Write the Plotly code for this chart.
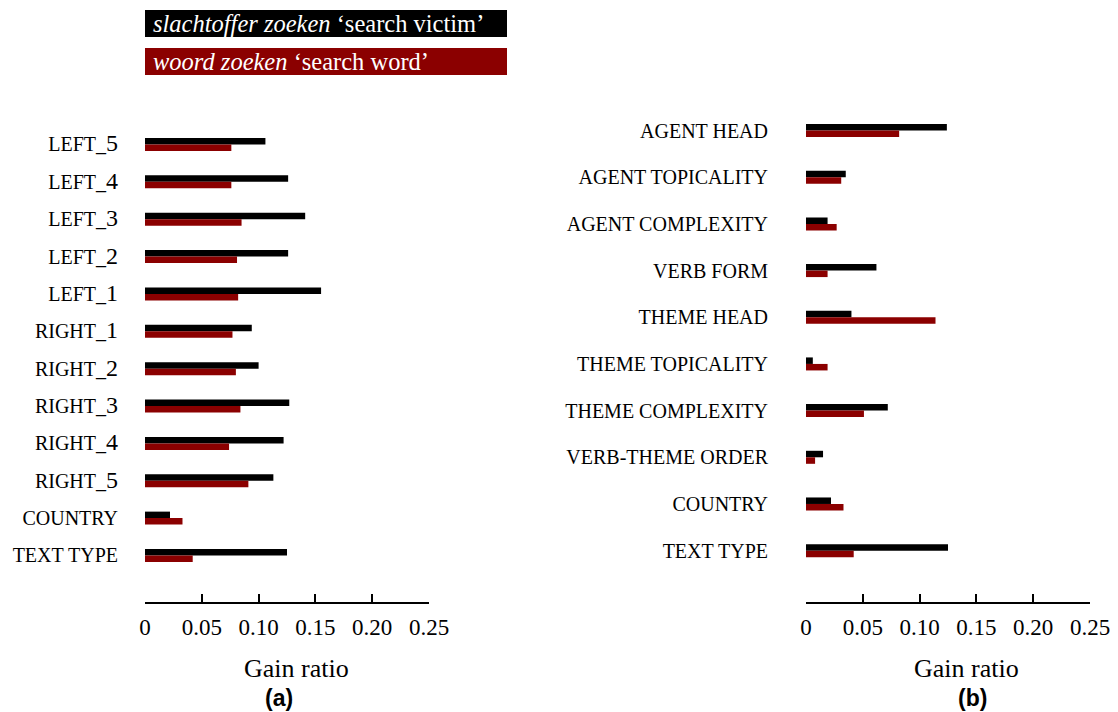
import re
import plotly.graph_objects as go

# series names (shown in the boxed key at the top)
series_names = ["<i>slachtoffer zoeken</i> ‘search victim’",
                "<i>woord zoeken</i> ‘search word’"]
series_colors = ["#000000", "#8b0000"]

# panel (a): context-word features
cats_a = ["LEFT_5", "LEFT_4", "LEFT_3", "LEFT_2", "LEFT_1",
          "RIGHT_1", "RIGHT_2", "RIGHT_3", "RIGHT_4", "RIGHT_5",
          "COUNTRY", "TEXT TYPE"]
victim_a = [0.106, 0.126, 0.141, 0.126, 0.155, 0.094,
            0.100, 0.127, 0.122, 0.113, 0.022, 0.125]
word_a = [0.076, 0.076, 0.085, 0.081, 0.082, 0.077,
          0.080, 0.084, 0.074, 0.091, 0.033, 0.042]

# panel (b): construction features
cats_b = ["AGENT HEAD", "AGENT TOPICALITY", "AGENT COMPLEXITY", "VERB FORM",
          "THEME HEAD", "THEME TOPICALITY", "THEME COMPLEXITY",
          "VERB-THEME ORDER", "COUNTRY", "TEXT TYPE"]
victim_b = [0.124, 0.035, 0.019, 0.062, 0.040, 0.006, 0.072, 0.015, 0.022, 0.125]
word_b = [0.082, 0.031, 0.027, 0.019, 0.114, 0.019, 0.051, 0.008, 0.033, 0.042]

x_ticks = [0, 0.05, 0.10, 0.15, 0.20, 0.25]
x_ticktext = ["0", "0.05", "0.10", "0.15", "0.20", "0.25"]

W, H = 1118, 712
SERIF = "Liberation Serif, Times New Roman, serif"


def px(x):
    return x / W


def py(y):
    return (H - y) / H


def small_caps(label):
    # caps stay at the base size, digits are set larger (like \textsc)
    return re.sub(r"(\d+)", r'<span style="font-size:24px">\1</span>', label)


fig = go.Figure()

panels = [
    (cats_a, [victim_a, word_a], "x", "y", 37.36),
    (cats_b, [victim_b, word_b], "x2", "y2", 46.67),
]
for cats, series, xa, ya, step in panels:
    w = 6.5 / step
    for vals, name, col, off in zip(series, series_names, series_colors, [-w, 0]):
        fig.add_trace(go.Bar(
            y=cats, x=vals, orientation="h", name=name,
            marker=dict(color=col, line=dict(width=0)),
            width=w, offset=off, xaxis=xa, yaxis=ya, showlegend=False,
        ))

xaxis_common = dict(
    range=[0, 0.25], tickvals=x_ticks, ticktext=x_ticktext, automargin=False,
    showgrid=False, zeroline=False, showline=True, linecolor="black", linewidth=2,
    ticks="inside", ticklen=8, tickwidth=1.5, tickcolor="black",
    tickfont=dict(family=SERIF, size=23, color="black"),
    ticklabelstandoff=3,
)
yaxis_common = dict(
    type="category", showgrid=False, zeroline=False, showline=False, ticks="",
    automargin=False,
    tickfont=dict(family=SERIF, size=20, color="black"),
)

fig.update_layout(
    width=W, height=H,
    margin=dict(l=0, r=0, t=0, b=0),
    paper_bgcolor="white", plot_bgcolor="white",
    barmode="overlay",
    xaxis=dict(domain=[px(145), px(429)], anchor="y", **xaxis_common),
    xaxis2=dict(domain=[px(806), px(1090)], anchor="y2", **xaxis_common),
    yaxis=dict(domain=[py(602), py(125.8)], anchor="x", range=[12.245, -0.5],
               tickvals=cats_a, ticktext=[small_caps(c) for c in cats_a],
               ticklabelstandoff=26, **yaxis_common),
    yaxis2=dict(domain=[py(602), py(107.2)], anchor="x2", range=[10.10, -0.5],
                tickvals=cats_b, ticktext=[small_caps(c) for c in cats_b],
                ticklabelstandoff=37, **yaxis_common),
)

# boxed key at the top left
for i, (name, col) in enumerate(zip(series_names, series_colors)):
    top = 10 + i * 38
    fig.add_shape(type="rect", xref="paper", yref="paper",
                  x0=px(145), x1=px(507), y0=py(top + 27), y1=py(top),
                  fillcolor=col, line=dict(width=0))
    fig.add_annotation(xref="paper", yref="paper", x=px(151), y=py(top + 13.5),
                       xanchor="left", yanchor="middle", showarrow=False, text=name,
                       font=dict(family=SERIF, size=24.5, color="white"))

for xc, sub_xc, label in [(296, 279, "(a)"), (966, 972, "(b)")]:
    fig.add_annotation(xref="paper", yref="paper", x=px(xc), y=py(668),
                       xanchor="center", yanchor="middle", showarrow=False,
                       text="Gain ratio",
                       font=dict(family=SERIF, size=26, color="black"))
    fig.add_annotation(xref="paper", yref="paper", x=px(sub_xc), y=py(698),
                       xanchor="center", yanchor="middle", showarrow=False,
                       text="<b>" + label + "</b>",
                       font=dict(family="Liberation Sans, Arial, sans-serif", size=23,
                                 color="black"))

# drop the default page margin so the 1118x712 figure fills the window exactly
fig.write_html("out.html", config={"displayModeBar": False},
               post_script="document.body.style.margin='0';")
